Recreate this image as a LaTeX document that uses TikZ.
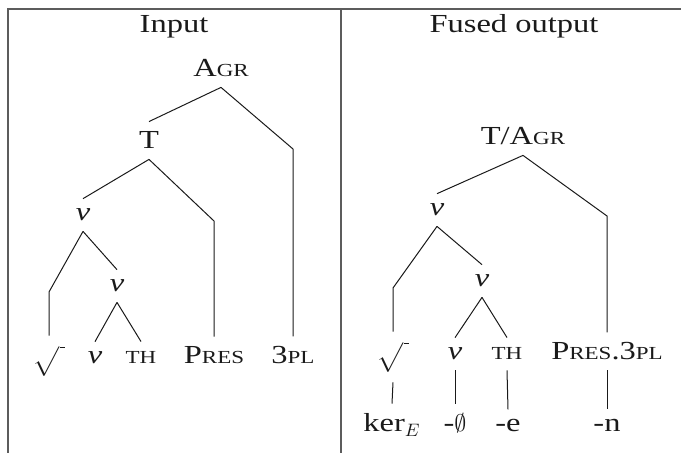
\documentclass[tikz,border=0pt]{standalone}
\usepackage{fontspec}
\setmainfont{Liberation Serif}[FakeStretch=1.25]
\usepackage{graphicx}
\usepackage{tikz}
\definecolor{ruleGray}{HTML}{5C5C5C}
\definecolor{treeInk}{HTML}{1A1A1A}
\newcommand{\fsc}[1]{{\fontsize{9.2}{11}\selectfont #1}}
\newcommand{\rt}{\raisebox{-1.5pt}{\scalebox{1.35}[0.82]{$\sqrt{\vphantom{(}\,}$}}}
\tikzset{
 lbl/.style={anchor=base, inner xsep=0pt, inner ysep=5pt, text depth=0pt, font=\fontsize{13}{15}\selectfont, text=treeInk},
 rootlbl/.style={lbl, text depth=6pt},
 branch/.style={draw=treeInk, line width=0.5pt},
 tablerule/.style={draw=ruleGray, line width=1pt}
}

\begin{document}
\begin{tikzpicture}[x=0.5pt, y=-0.5pt]
\useasboundingbox (0,0) rectangle (681,453);
% table frame
\draw[tablerule] (8,453) -- (8,9) -- (681,9);
\draw[tablerule] (341,9) -- (341,453);
\node[lbl] (hin) at (174,33) {Input};
\node[lbl] (hout) at (514,33) {Fused output};

% input
\node[lbl] (agr) at (221,77) {A\fsc{GR}};
\node[lbl] (t) at (149,149) {T};
\node[lbl] (v1) at (83,221) {\textit{v}};
\node[lbl] (v2) at (117,292) {\textit{v}};
\node[rootlbl] (root) at (49,364) {\rt};
\node[lbl] (v3) at (95,364) {\textit{v}};
\node[lbl] (th) at (141,364) {\fsc{TH}};
\node[lbl] (pres) at (214,364) {P\fsc{RES}};
\node[lbl] (pl) at (293,364) {3\fsc{PL}};
\coordinate (kpl) at (293,149);
\coordinate (kpres) at (214,221);
\coordinate (kroot) at (49,292);
\draw[branch] (agr.south) -- (t.north);
\draw[branch] (agr.south) -- (kpl) -- (pl.north);
\draw[branch] (t.south) -- (v1.north);
\draw[branch] (t.south) -- (kpres) -- (pres.north);
\draw[branch] (v1.south) -- (kroot) -- (root.north);
\draw[branch] (v1.south) -- (v2.north);
\draw[branch] (v2.south) -- (v3.north);
\draw[branch] (v2.south) -- (th.north);

% fused output
\node[lbl] (tagr) at (523,145) {T/A\fsc{GR}};
\node[lbl] (fv1) at (437,216) {\textit{v}};
\node[lbl] (fv2) at (482,287) {\textit{v}};
\node[rootlbl] (froot) at (393,360) {\rt};
\node[lbl] (fv3) at (455,360) {\textit{v}};
\node[lbl] (fth) at (507,360) {\fsc{TH}};
\node[lbl] (fpres) at (607,360) {P\fsc{RES}.3\fsc{PL}};
\node[lbl] (ker) at (392,432) {ker$_E$};
\node[lbl] (zero) at (455,432) {-$\emptyset$};
\node[lbl] (e) at (508,432) {-e};
\node[lbl] (n) at (607,432) {-n};
\coordinate (kfpres) at (607,216);
\coordinate (kfroot) at (393,288);
\draw[branch] (tagr.south) -- (fv1.north);
\draw[branch] (tagr.south) -- (kfpres) -- (fpres.north);
\draw[branch] (fv1.south) -- (kfroot) -- (froot.north);
\draw[branch] (fv1.south) -- (fv2.north);
\draw[branch] (fv2.south) -- (fv3.north);
\draw[branch] (fv2.south) -- (fth.north);
\draw[branch] (froot.south) -- (ker.north);
\draw[branch] (fv3.south) -- (zero.north);
\draw[branch] (fth.south) -- (e.north);
\draw[branch] (fpres.south) -- (n.north);
\end{tikzpicture}
\end{document}
